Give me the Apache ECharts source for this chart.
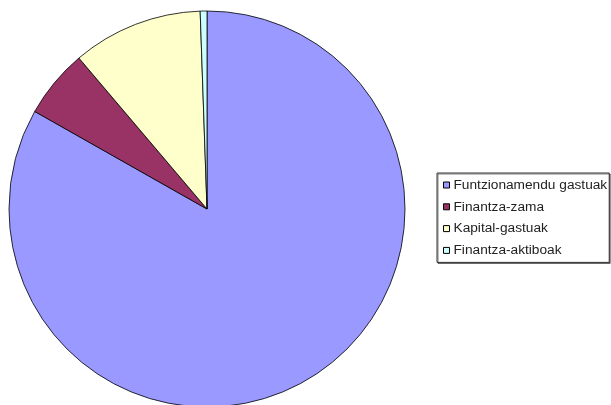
<!DOCTYPE html>
<html lang="eu">
<head>
  <meta charset="UTF-8">
  <title>pie</title>
  <script src="https://cdn.jsdelivr.net/npm/echarts@6/dist/echarts.min.js"></script>
  <style>
    html, body { margin: 0; padding: 0; background: #fff; }
  </style>
</head>
<body>
  <div id="chart" style="width: 611px; height: 405px;"></div>
  <script>
    // datuak (ehunekoak, iruditik irakurrita)
    var categories = ['Funtzionamendu gastuak', 'Finantza-zama', 'Kapital-gastuak', 'Finantza-aktiboak'];
    var values = [83.2, 5.6, 10.65, 0.55];
    var colors = ['#9999FF', '#993366', '#FFFFCC', '#CCFFFF'];

    var chart = echarts.init(document.getElementById('chart'));

    var option = {
      animation: false,
      color: colors,
      legend: {
        orient: 'vertical',
        left: 437,
        top: 173,
        padding: [5, 2, 5, 6],
        itemGap: 7.8,
        itemWidth: 6,
        itemHeight: 6,
        icon: 'rect',
        borderColor: '#333',
        borderWidth: 1,
        backgroundColor: '#fff',
        shadowColor: 'rgba(0,0,0,0.5)',
        shadowOffsetX: 1,
        shadowOffsetY: 1,
        itemStyle: { borderColor: '#000', borderWidth: 1 },
        textStyle: {
          fontFamily: 'Liberation Sans, Arial',
          fontSize: 13.7,
          color: '#222',
          padding: [0, 0, 0, -1]
        },
        data: categories
      },
      series: [{
        type: 'pie',
        center: [207, 209],
        radius: 198,
        startAngle: 90,
        clockwise: true,
        label: { show: false },
        labelLine: { show: false },
        emphasis: { disabled: true },
        itemStyle: { borderColor: '#000', borderWidth: 0.8 },
        data: categories.map(function (c, i) {
          return { name: c, value: values[i] };
        })
      }]
    };
    chart.setOption(option);
  </script>
</body>
</html>
